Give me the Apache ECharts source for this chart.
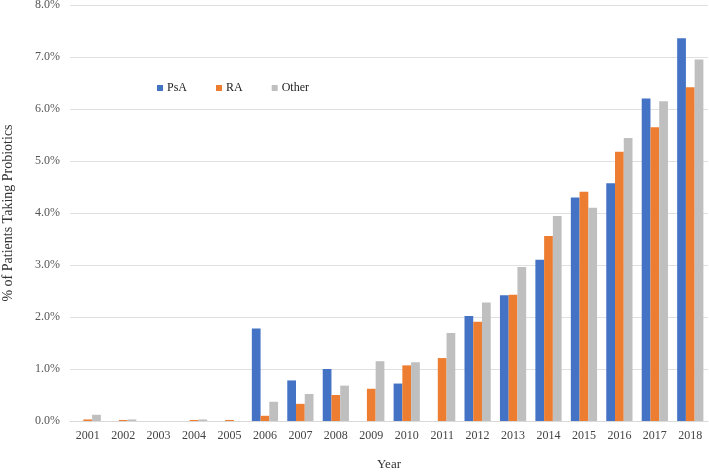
<!DOCTYPE html>
<html>
<head>
<meta charset="utf-8">
<script src="https://cdn.jsdelivr.net/npm/echarts@6/dist/echarts.min.js"></script>
<style>html,body{margin:0;padding:0;background:#fff}#c{width:709px;height:473px}</style>
</head>
<body>
<div id="c"></div>
<script>
const years = ['2001','2002','2003','2004','2005','2006','2007','2008','2009','2010','2011','2012','2013','2014','2015','2016','2017','2018'];
const psa =   [0, 0, 0, 0, 0, 1.78, 0.78, 1.00, 0, 0.72, 0, 2.02, 2.42, 3.10, 4.30, 4.57, 6.20, 7.36];
const ra =    [0.03, 0.02, 0, 0.02, 0.02, 0.10, 0.33, 0.50, 0.62, 1.07, 1.21, 1.91, 2.43, 3.56, 4.41, 5.18, 5.65, 6.42];
const other = [0.12, 0.03, 0, 0.03, 0, 0.37, 0.52, 0.68, 1.15, 1.13, 1.69, 2.28, 2.96, 3.94, 4.10, 5.44, 6.15, 6.95];
const yTicks = [0, 1, 2, 3, 4, 5, 6, 7, 8];

const serif = '"Liberation Serif", "Times New Roman", serif';
const chart = echarts.init(document.getElementById('c'));
const mk = (name, data, color) => ({
  name, type: 'bar', data, barGap: '0%', barCategoryGap: '26%',
  itemStyle: { color }, animation: false
});
chart.setOption({
  animation: false,
  textStyle: { fontFamily: serif },
  legend: {
    left: 152, top: 77, itemWidth: 6, itemHeight: 6, itemGap: 29,
    icon: 'rect',
    textStyle: { fontFamily: serif, fontSize: 12, color: '#222', padding: [0, 0, 0, -1] },
    data: ['PsA', 'RA', 'Other']
  },
  grid: { left: 70, right: 1, top: 5, bottom: 52, containLabel: false, outerBoundsMode: 'none' },
  xAxis: {
    type: 'category', data: years,
    name: 'Year', nameLocation: 'middle', nameGap: 37,
    nameTextStyle: { fontFamily: serif, fontSize: 13, color: '#333' },
    axisLine: { lineStyle: { color: '#d9d9d9' } },
    axisTick: { show: false },
    axisLabel: { fontFamily: serif, fontSize: 12, color: '#444', margin: 9, interval: 0 }
  },
  yAxis: {
    type: 'value', min: 0, max: 8, interval: 1,
    name: '% of Patients Taking Probiotics', nameLocation: 'middle', nameGap: 55,
    nameTextStyle: { fontFamily: serif, fontSize: 14, color: '#333' },
    axisLine: { show: false }, axisTick: { show: false },
    splitLine: { lineStyle: { color: '#e0e0e0' } },
    axisLabel: {
      fontFamily: serif, fontSize: 12, color: '#555', margin: 10,
      formatter: v => yTicks.includes(v) ? v.toFixed(1) + '%' : ''
    }
  },
  series: [
    mk('PsA', psa, '#4472C4'),
    mk('RA', ra, '#ED7D31'),
    mk('Other', other, '#BFBFBF')
  ]
});
</script>
</body>
</html>
